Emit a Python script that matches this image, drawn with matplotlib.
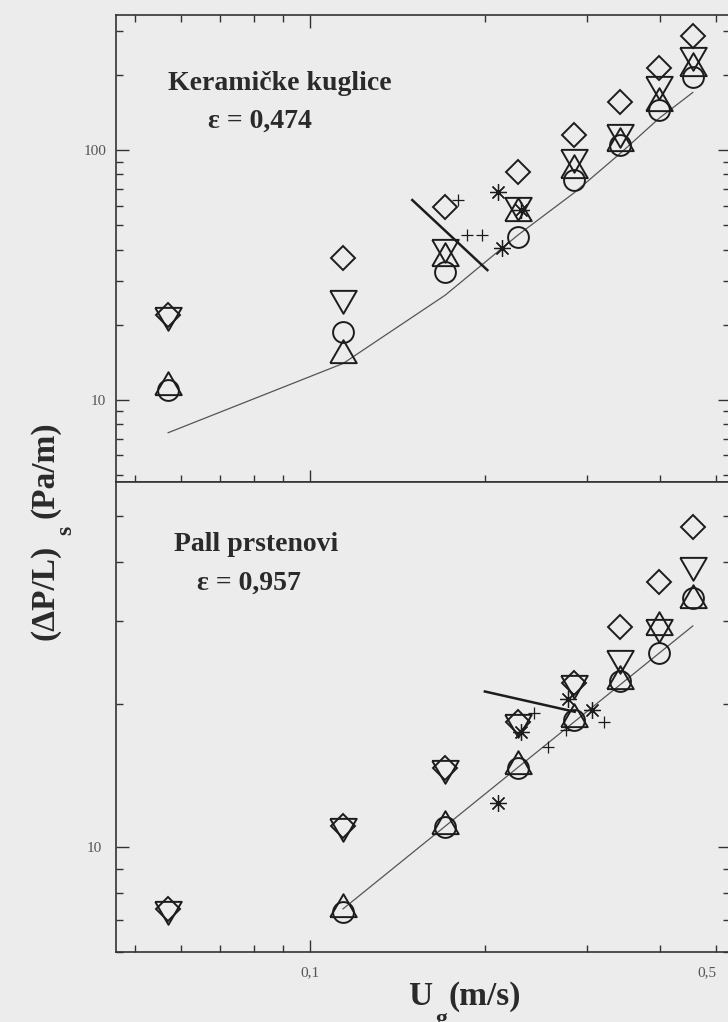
import numpy as np
import matplotlib.pyplot as plt
from matplotlib.ticker import NullFormatter

plt.rcParams['font.family'] = ['Liberation Serif', 'DejaVu Serif']

# superficial gas velocity, m/s
ug = [0.057, 0.114, 0.171, 0.228, 0.285, 0.342, 0.399, 0.456]

# ceramic spheres, pressure drop per unit height (Pa/m)
ker_diamond = [21.9, 37.0, 59.2, 81.7, 115, 156, 213, 286]
ker_tri_down = [21.9, 25.6, 40.9, 60.3, 94, 118, 184, 240]
ker_circle = [11.0, 18.7, 32.5, 44.9, 76, 105, 145, 196]
ker_tri_up = [11.3, 15.1, 37.0, 56.0, 83, 107, 154, 213]
ker_dry = [7.4, 14.0, 26.3, 45.7, 67.5, 97, 134, 170]
ker_load_u = [0.150, 0.202]
ker_load_dp = [63.1, 33.1]
ker_plus_u = [0.180, 0.186, 0.198]
ker_plus_dp = [63.1, 45.7, 45.7]
ker_star_u = [0.2105, 0.214, 0.231]
ker_star_dp = [67.9, 40.6, 57.5]

# Pall rings
pall_diamond = [7.41, 11.07, 14.7, 18.4, 22.2, 29.2, 36.3, 47.4]
pall_tri_down = [7.41, 11.07, 14.7, 18.4, 22.2, 25.1, 29.2, 39.4]
pall_circle = [np.nan, 7.3, 11.0, 14.7, 18.5, 22.4, 25.7, 33.6]
pall_tri_up = [np.nan, 7.41, 11.07, 14.8, 18.6, 22.4, 29.2, 33.2]
pall_dry_u = [0.114, 0.456]
pall_dry = [7.4, 29.3]
pall_load_u = [0.200, 0.2855]
pall_load_dp = [21.3, 19.3]
pall_plus_u = [0.243, 0.257, 0.276, 0.321]
pall_plus_dp = [19.2, 16.3, 17.7, 18.4]
pall_star_u = [0.2105, 0.231, 0.278, 0.306]
pall_star_dp = [12.4, 17.5, 20.5, 19.5]

bg = '#ececec'
ink = '#1c1c1c'
txt = '#2a2a2a'
tri_up = [(-1, -0.577), (1, -0.577), (0, 1.155), (-1, -0.577)]
tri_down = [(-1, 0.577), (1, 0.577), (0, -1.155), (-1, 0.577)]

fig = plt.figure(figsize=(7.28, 10.22), dpi=100, facecolor=bg)
W, H = 728, 1022
x0, x1 = 116, 730
ax1 = fig.add_axes([x0 / W, 1 - 482 / H, (x1 - x0) / W, (482 - 15) / H])
ax2 = fig.add_axes([x0 / W, 1 - 952 / H, (x1 - x0) / W, (952 - 482) / H])


def draw_points(ax, d, td, c, tu):
    kw = dict(ls='none', mfc='none', mec=ink, mew=1.4, clip_on=False)
    ax.plot(ug, tu, marker=tri_up, ms=22, **kw)
    ax.plot(ug, c, marker='o', ms=15, **kw)
    ax.plot(ug, td, marker=tri_down, ms=22, **kw)
    ax.plot(ug, d, marker='D', ms=12.5, **kw)


# upper panel: ceramic spheres
ax1.plot(ug, ker_dry, color='#555555', lw=0.9)
ax1.plot(ker_load_u, ker_load_dp, color=ink, lw=1.8)
draw_points(ax1, ker_diamond, ker_tri_down, ker_circle, ker_tri_up)
ax1.plot(ker_plus_u, ker_plus_dp, ls='none', marker='+', ms=9, mew=0.9, color=ink)
ax1.plot(ker_star_u, ker_star_dp, ls='none', marker=(8, 2, 0), ms=12, mew=0.9, color=ink)
ax1.set_ylim(4.7, 347)
ax1.text(0.267, 0.839, 'Keramičke kuglice', transform=ax1.transAxes, ha='center',
         va='baseline', fontsize=20, fontweight='bold', color=txt)
ax1.text(0.235, 0.758, 'ε = 0,474', transform=ax1.transAxes, ha='center',
         va='baseline', fontsize=20, fontweight='bold', color=txt)

# lower panel: Pall rings
ax2.plot(pall_dry_u, pall_dry, color='#555555', lw=0.9)
ax2.plot(pall_load_u, pall_load_dp, color=ink, lw=1.8)
draw_points(ax2, pall_diamond, pall_tri_down, pall_circle, pall_tri_up)
ax2.plot(pall_plus_u, pall_plus_dp, ls='none', marker='+', ms=9, mew=0.9, color=ink)
ax2.plot(pall_star_u, pall_star_dp, ls='none', marker=(8, 2, 0), ms=12, mew=0.9, color=ink)
ax2.set_ylim(6.0, 59)
ax2.text(0.228, 0.853, 'Pall prstenovi', transform=ax2.transAxes, ha='center',
         va='baseline', fontsize=20, fontweight='bold', color=txt)
ax2.text(0.217, 0.770, 'ε = 0,957', transform=ax2.transAxes, ha='center',
         va='baseline', fontsize=20, fontweight='bold', color=txt)

xminor = [0.05, 0.06, 0.07, 0.08, 0.09, 0.2, 0.3, 0.4, 0.5]
for ax in (ax1, ax2):
    ax.set_xscale('log')
    ax.set_yscale('log')
    ax.set_xlim(0.04636, 0.5284)
    ax.set_facecolor(bg)
    for s in ax.spines.values():
        s.set_color('#333333')
        s.set_linewidth(1.2)
    ax.set_xticks([0.1])
    ax.set_xticks(xminor, minor=True)
    ax.tick_params(which='both', direction='in', color='#333333', width=1.0,
                   labelsize=11, labelcolor='#555555', pad=7,
                   left=True, right=True, bottom=True)
    ax.tick_params(which='major', length=9)
    ax.tick_params(which='minor', length=5)
    ax.yaxis.set_minor_formatter(NullFormatter())

ax1.tick_params(which='both', top=True, labelbottom=False)
ax1.xaxis.set_minor_formatter(NullFormatter())
ax1.set_yticks([10, 100], ['10', '100'])
ax1.set_yticks([5, 6, 7, 8, 9, 20, 30, 40, 50, 60, 70, 80, 90, 200, 300], minor=True)

ax2.tick_params(which='both', top=False, pad=10)
ax2.set_xticks([0.1], ['0,1'])
ax2.set_xticks(xminor, ['', '', '', '', '', '', '', '', '0,5'], minor=True)
for lab in ax2.get_xticklabels(minor=True):
    lab.set_horizontalalignment('right')
ax2.set_yticks([10], ['10'])
ax2.set_yticks([6, 7, 8, 9, 20, 30, 40, 50], minor=True)

# axis titles, with the subscripts set lower than the main text
lab = dict(fontsize=24, fontweight='bold', color=txt)
sub = dict(fontsize=17, fontweight='bold', color=txt)
fig.text(408 / W, 1 - 1005 / H, 'U', ha='left', va='baseline', **lab)
fig.text(435 / W, 1 - 1025 / H, 'g', ha='left', va='baseline', **sub)
fig.text(449 / W, 1 - 1005 / H, '(m/s)', ha='left', va='baseline', **lab)

fig.text(53 / W, 1 - 640 / H, '(ΔP/L)', rotation=90, rotation_mode='anchor',
         ha='left', va='baseline', **lab)
fig.text(71 / W, 1 - 535 / H, 's', rotation=90, rotation_mode='anchor',
         ha='left', va='baseline', **sub)
fig.text(53 / W, 1 - 518 / H, '(Pa/m)', rotation=90, rotation_mode='anchor',
         ha='left', va='baseline', **lab)

fig.savefig('out.png', dpi=100, facecolor=bg)
